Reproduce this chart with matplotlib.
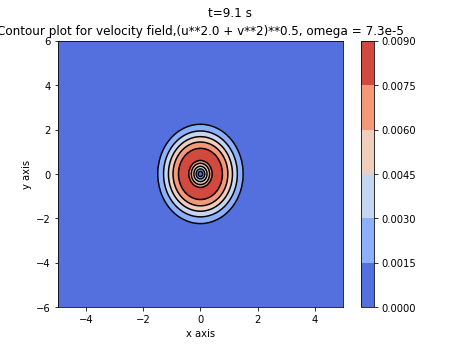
import numpy as np
import matplotlib
matplotlib.use('Agg')
from matplotlib import pyplot as plt

# grid of the domain
x = np.linspace(-5, 5, 241)
y = np.linspace(-6, 6, 289)

r_prof = [0.0, 0.08, 0.15, 0.23, 0.32, 0.40, 0.58, 0.77, 0.96, 1.12, 1.29, 1.49, 1.75, 8.0]
speed_prof = [0.0, 0.0015, 0.003, 0.0045, 0.006, 0.0075, 0.0088, 0.0075, 0.006, 0.0045, 0.003, 0.0015, 0.0002, 0.00005]
y_stretch = 1.5

levels = np.linspace(0, 0.009, 7)

X, Y = np.meshgrid(x, y)
R = np.sqrt(X**2 + (Y / y_stretch)**2)
speed = np.interp(R, r_prof, speed_prof)

fig = plt.figure(figsize=(6.4, 4.8), dpi=72)
cf = plt.contourf(X, Y, speed, levels, cmap='coolwarm')
plt.contour(X, Y, speed, levels[1:], colors='k', linewidths=1.5)
plt.colorbar(cf)
plt.xlabel('x axis')
plt.ylabel('y axis')
plt.title('Contour plot for velocity field,(u**2.0 + v**2)**0.5, omega = 7.3e-5')
plt.suptitle('t=9.1 s')
fig.savefig('out.png')
